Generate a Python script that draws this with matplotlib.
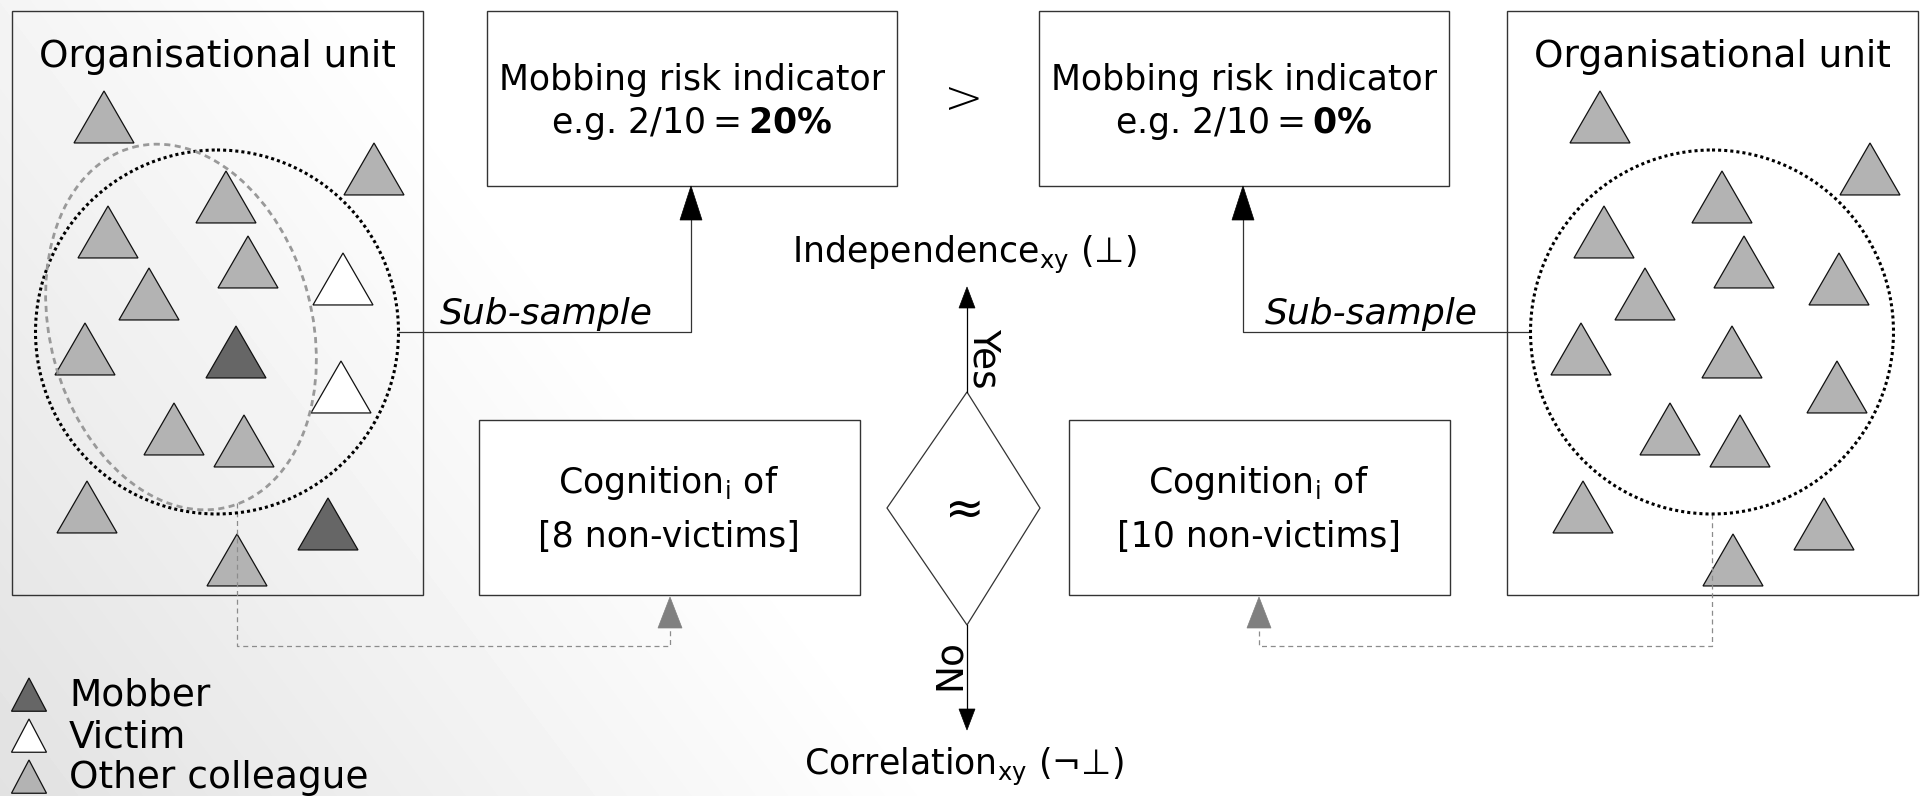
import numpy as np
import matplotlib
matplotlib.use("Agg")
import matplotlib.pyplot as plt
from matplotlib.patches import Polygon, Rectangle, Ellipse

plt.rcParams['font.family'] = ['DejaVu Sans']
plt.rcParams['mathtext.fontset'] = 'dejavusans'

W, H = 1922, 796

# triangles in the left unit: apex x, apex y, kind
tri_x = [104, 374, 226, 108, 248, 149, 343, 85, 236, 341, 174, 244, 87, 328, 237]
tri_y = [91, 143, 171, 206, 236, 268, 253, 323, 326, 361, 403, 415, 481, 498, 534]
tri_kind_left = ['other', 'other', 'other', 'other', 'other', 'other', 'victim', 'other',
                 'mobber', 'victim', 'other', 'other', 'other', 'mobber', 'other']
tri_kind_right = ['other'] * 15
unit_shift = 1496

kind_color = {'mobber': '#666666', 'victim': '#ffffff', 'other': '#b3b3b3'}
legend_kinds = ['mobber', 'victim', 'other']
legend_labels = ['Mobber', 'Victim', 'Other colleague']

units_x = [12, 1507]
mob_box_x = [487, 1039]
cog_box_x = [479, 1069]
mob_text = [r'e.g. 2/10$=\mathbf{20\%}$', r'e.g. 2/10$=\mathbf{0\%}$']
cog_text = ['[8 non-victims]', '[10 non-victims]']
sub_x = [691, 1243]
circle_cx = [217, 1712]
drop_x = [237, 1712]
cog_arrow_x = [670, 1259]

fig = plt.figure(figsize=(W / 100, H / 100), dpi=100)
ax = fig.add_axes([0, 0, 1, 1])
ax.set_xlim(0, W)
ax.set_ylim(H, 0)
ax.axis('off')

# background gradient, grey bottom-left to white
gx, gy = np.meshgrid(np.arange(W), np.arange(H))
t = np.clip((gx + (H - gy) * 0.75) / 950.0, 0, 1)
bg = 0.885 + 0.115 * t
ax.imshow(bg, cmap='gray', vmin=0, vmax=1, extent=[0, W, H, 0], zorder=0, aspect='auto')

edge = '#333333'


def tri(x, y, color, size=60, z=3, hscale=0.866):
    h = size * hscale
    ax.add_patch(Polygon([[x, y], [x - size / 2, y + h], [x + size / 2, y + h]],
                         closed=True, fc=color, ec='#111111', lw=0.9, zorder=z))


def head(x, y, w, l, color, up=True):
    s = 1 if up else -1
    ax.add_patch(Polygon([[x, y], [x - w / 2, y + s * l], [x + w / 2, y + s * l]],
                         closed=True, fc=color, ec=color, lw=0.5, zorder=4))


# organisational units
for i, ux in enumerate(units_x):
    ax.add_patch(Rectangle((ux, 11), 411, 584, fill=False, ec=edge, lw=1, zorder=2))
    ax.text(ux + 205, 57, 'Organisational unit', fontsize=27, ha='center', va='center', zorder=5)
    kinds = tri_kind_left if i == 0 else tri_kind_right
    off = 0 if i == 0 else unit_shift
    for x, y, k in zip(tri_x, tri_y, kinds):
        tri(x + off, y, kind_color[k])
    ax.add_patch(Ellipse((circle_cx[i], 332), 363, 364, fill=False, ec='black', lw=2.2,
                         ls=(0, (1.0, 1.0)), zorder=4))

# grey dashed ellipse (left unit)
ax.add_patch(Ellipse((181, 327), 262, 372, angle=-15, fill=False, ec='#999999', lw=2.0,
                     ls=(0, (2.2, 1.6)), zorder=4))

# mobbing risk boxes
for i, bx in enumerate(mob_box_x):
    ax.add_patch(Rectangle((bx, 11), 410, 175, fc='white', ec=edge, lw=1, zorder=2))
    ax.text(bx + 205, 80, 'Mobbing risk indicator', fontsize=25, ha='center', va='center', zorder=5)
    ax.text(bx + 205, 124, mob_text[i], fontsize=25, ha='center', va='center', zorder=5)
ax.text(964, 100, '>', fontsize=34, ha='center', va='center', fontweight='light', zorder=5)

# sub-sample connectors
for i, sx in enumerate(sub_x):
    cx = circle_cx[i] + (181.5 if i == 0 else -182.5)
    ax.plot([cx, sx, sx], [332, 332, 220], color='#333333', lw=0.9, zorder=3)
    head(sx, 186, 22, 34, 'black')
ax.text(440, 324, 'Sub-sample', fontsize=26, style='italic', ha='left', va='baseline', zorder=5)
ax.text(1265, 324, 'Sub-sample', fontsize=26, style='italic', ha='left', va='baseline', zorder=5)

# cognition boxes
for i, bx in enumerate(cog_box_x):
    ax.add_patch(Rectangle((bx, 420), 381, 175, fc='white', ec=edge, lw=1, zorder=2))
    ax.text(bx + 190, 483, r'Cognition$_\mathregular{i}$ of', fontsize=25, ha='center', va='center', zorder=5)
    ax.text(bx + 190, 537, cog_text[i], fontsize=25, ha='center', va='center', zorder=5)

# dashed grey links from sub-samples to cognition
for i in range(2):
    top = 503 if i == 0 else 514
    ax.plot([drop_x[i], drop_x[i], cog_arrow_x[i], cog_arrow_x[i]], [top, 646, 646, 628],
            color='#8c8c8c', lw=0.9, ls=(0, (4, 3)), zorder=3)
    head(cog_arrow_x[i], 597, 24, 31, '#808080')

# decision diamond
ax.add_patch(Polygon([[967, 392], [1040, 508], [967, 625], [887, 508]], closed=True,
                     fc='white', ec=edge, lw=0.9, zorder=2))
ax.text(965, 512, '≈', fontsize=34, ha='center', va='center', zorder=5)
ax.plot([967, 967], [392, 306], color='black', lw=0.9, zorder=3)
head(967, 287, 16, 21, 'black')
ax.plot([967, 967], [625, 710], color='black', lw=0.9, zorder=3)
head(967, 730, 16, 21, 'black', up=False)
ax.text(984, 358, 'Yes', fontsize=27, rotation=270, ha='center', va='center', zorder=5)
ax.text(950, 664, 'No', fontsize=27, rotation=90, ha='center', va='center', zorder=5)
ax.text(964, 255, r'Independence$_\mathregular{xy}$ (⊥)', fontsize=25, ha='center', va='center', zorder=5)
ax.text(964, 767, r'Correlation$_\mathregular{xy}$ (¬⊥)', fontsize=25, ha='center', va='center', zorder=5)

# legend
for j, (k, lab) in enumerate(zip(legend_kinds, legend_labels)):
    y0 = 678 + j * 41
    tri(29, y0, kind_color[k], size=35, z=5, hscale=0.95)
    ax.text(69, y0 + 18, lab, fontsize=27, ha='left', va='center', zorder=5)

fig.savefig('out.png', dpi=100)
